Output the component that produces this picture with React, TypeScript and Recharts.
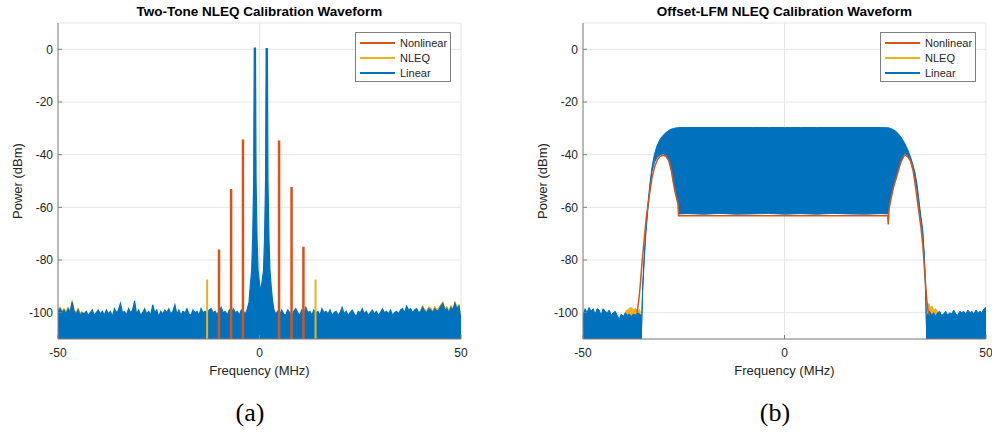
import React from 'react';
import { Area, CartesianGrid, ComposedChart, Line, XAxis, YAxis } from 'recharts';

const colNonlinear = '#D95319';
const colNleq = '#EDB120';
const colLinear = '#0072BD';
const axisGray = '#808080';
const textDark = '#262626';

const freqTicks = [-50, 0, 50];
const powerTicks = [-100, -80, -60, -40, -20, 0];
const floorStep = 0.5;
const bottom = -110;

const legendItems = [
  { name: 'Nonlinear', color: colNonlinear },
  { name: 'NLEQ', color: colNleq },
  { name: 'Linear', color: colLinear },
];

// ---------- (a) two-tone ----------
// noise floor of the linear trace, sampled every 0.5 MHz
const toneFloorLeftStart = -50;
const toneFloorLeft = [
  -99.5, -98.5, -100, -99, -100.5, -98.5, -100, -96, -99.5, -100.5,
  -99, -101, -100, -100.5, -99.5, -101, -100, -99, -101, -100,
  -99, -100.5, -99.5, -101, -99, -100.5, -99.5, -101.5, -98.5, -100,
  -99, -96.5, -100, -99.5, -101, -98.5, -100, -99, -95.5, -100.5,
  -99, -101, -100, -98.5, -100.5, -99.5, -101, -97, -100, -99,
  -101.5, -99.5, -100.5, -99, -100, -98.5, -100.5, -99.5, -97, -100.5,
  -99, -101, -99.5, -100, -98.5, -100.5, -101, -99, -100, -99.5,
  -101, -98.5, -100, -99.5, -100.5, -99, -98.5, -100, -99.5, -101,
  -99, -98, -100, -99.5, -101, -99, -100.5, -98.5, -100, -99.5,
  -101, -99,
];
const toneFloorRightStart = 4.5;
const toneFloorRight = [
  -99.5, -101, -99, -100.5, -101, -99, -100, -101.5, -99.5, -98.5,
  -100, -101, -99, -100.5, -98, -100, -99.5, -101, -99, -100,
  -99.5, -101, -98.5, -100, -99.5, -100.5, -99, -101, -100, -99.5,
  -101, -100, -98, -100.5, -99.5, -101, -100, -99, -100.5, -101.5,
  -99.5, -100, -98.5, -100.5, -99.5, -101, -100, -99, -100.5, -99.5,
  -101, -100, -98.5, -100, -99.5, -100.5, -99, -101, -100, -99.5,
  -100.5, -99, -98.5, -100, -97.5, -99, -98.5, -100, -99, -98.5,
  -100, -99.5, -98, -99.5, -100, -98.5, -99, -100, -98.5, -99.5,
  -99, -97.5, -96.5, -99, -98.5, -100, -98, -99, -96.5, -98.5,
  -97.5, -103,
];
// the two tones and their leakage skirts
const toneCenterFreq = [-4, -3.5, -3, -2.6, -2.3, -1.95, -1.7, -1.45, -1.3, -1.0, -0.85, -0.6, -0.35, 0, 0.3, 0.65, 1.0, 1.25, 1.5, 1.65, 1.95, 2.1, 2.35, 2.6, 2.9, 3.2, 3.6, 4];
const toneCenterLinear = [-99.5, -100.5, -98.5, -96, -90, -84, -72, -50, 0.5, 0.5, -50, -72, -84, -89, -92, -88, -84, -72, -50, 0.3, 0.3, -50, -72, -84, -90, -95, -99, -100.5];
// intermod products
const toneSpurFreq = [-10.05, -7.05, -4.1, 4.85, 7.95, 10.9];
const toneSpurNonlinear = [-76, -53, -34.2, -34.6, -52.3, -75];
const toneSpurNleqFreq = [-13.0, 13.9];
const toneSpurNleq = [-87.4, -87.4];
// NLEQ floor peeking above the linear one near the band edges
const toneNleqEdgeLeftStart = -50;
const toneNleqEdgeLeft = [-98.8, -97.8, -99.2, -98.3, -99.6, -97.9, -99.1, -95.4, -98.7, -99.8, -98.2, -100.2, -99.3];
const toneNleqEdgeRightStart = 40;
const toneNleqEdgeRight = [-98.7, -97.3, -98.8, -99.1, -97.8, -98.2, -99.3, -97.6, -98.8, -98.1, -96.8, -95.8, -98.2, -97.6, -99.2, -97.2, -98.3, -95.7, -97.8, -96.9, -101.5];

// ---------- (b) offset-LFM ----------
const lfmFloorLeftStart = -50;
const lfmFloorLeft = [
  -101.5, -98.5, -100, -98, -99.5, -98.5, -100.5, -98.5, -99, -101,
  -98.5, -99.5, -100, -99, -101, -100, -99.5, -101, -102.5, -100.5,
  -101.5, -100, -101, -100.5, -101.5, -100.5, -101, -100, -100.5,
];
const lfmFloorRightStart = 35.5;
const lfmFloorRight = [
  -100.5, -99.5, -101, -100, -101.5, -100, -99.5, -101, -100.5, -99.5,
  -101, -100, -100.5, -99, -100.5, -101, -99.5, -100, -99.5, -100.5,
  -99, -100, -99.5, -100.5, -99, -100, -99.5, -100, -98.5, -98,
];
const lfmEdgeFreq = [-35.6, 35.35];
const lfmEdgeLinear = [-101, -101];
// chirp band of the linear trace: upper and lower envelope
const lfmBandFreq = [
  -35.55, -35.2, -34.8, -34.4, -33.9, -33.4, -32.9, -32.3, -31.6, -30.8, -30.1, -29.4, -28.7, -28.1, -27.6, -27.1, -26.7, -26.4, -26.25,
  -24, -20, -16, -12, -8, -4, 0, 4, 8, 12, 16, 20, 24,
  25.7, 25.85, 26.0, 26.4, 27.0, 27.6, 28.2, 28.9, 29.8, 30.6, 31.3, 31.9, 32.4, 32.9, 33.4, 33.8, 34.3, 34.7, 35.0, 35.3,
];
const lfmBandUpper = [
  -110, -90, -78, -68.5, -59, -51, -45, -40, -36.5, -34, -32.6, -31.6, -30.8, -30.3, -30.1, -29.9, -29.8, -29.75, -29.7,
  -29.7, -29.7, -29.7, -29.7, -29.7, -29.7, -29.7, -29.7, -29.7, -29.7, -29.7, -29.7, -29.7,
  -29.8, -29.8, -29.9, -30.1, -30.5, -31.1, -32, -33.3, -35.6, -38.2, -41, -44, -47, -51.5, -57.8, -63, -68.5, -78, -90, -110,
];
const lfmBandLower = [
  -110, -92, -80, -70, -61, -53, -46.5, -43, -41, -40, -39.7, -40.2, -42, -45.5, -50, -54, -56.5, -58.5, -62.5,
  -62.4, -62.6, -62.3, -62.6, -62.5, -62.3, -62.6, -62.4, -62.6, -62.3, -62.5, -62.6, -62.4,
  -62.5, -61.5, -59.7, -56.5, -52.2, -49, -45.9, -42.3, -39.6, -40.3, -42, -45.5, -49, -53.5, -60, -64.5, -70, -80, -92, -110,
];
const lfmNonlinearFreq = [
  -36.6, -36.3, -36.0, -35.7, -35.3, -34.8, -34.3, -33.6, -32.9, -32.2, -31.5, -30.8, -30.1, -29.4, -28.7, -28.1, -27.6, -27.1, -26.7, -26.4,
  -26.3, -20, -10, 0, 10, 20, 25.6, 25.75, 25.9, 26.0, 26.4, 27.0, 27.6, 28.2, 28.9, 29.8, 30.6, 31.3, 31.9, 32.5,
  33.2, 33.8, 34.3, 34.8, 35.3, 35.6, 35.9,
];
const lfmNonlinear = [
  -100, -97, -93, -88, -80, -72, -64, -56, -49, -44.5, -41.8, -40.6, -40.2, -40.6, -42.4, -46, -50.5, -54.5, -57, -59,
  -63.2, -63.2, -63.2, -63.2, -63.2, -63.2, -63.2, -66.5, -62, -60.2, -57, -52.7, -49.5, -46.4, -42.7, -40.1, -40.8, -42.5, -46, -52,
  -60, -67, -74, -85, -95, -99, -101,
];
const lfmNleqLeftFreq = [-39.5, -39, -38.5, -38, -37.5, -37, -36.5, -36, -35.7];
const lfmNleqLeft = [-99.5, -99, -98.3, -98, -99, -98.3, -99.3, -98.8, -100];
const lfmNleqRightFreq = [35.4, 35.8, 36.2, 36.6, 37, 37.5, 38];
const lfmNleqRight = [-100, -96.5, -98, -97.5, -99, -98.5, -99.5];

// ---------- row builders ----------
const floorRows = (start: number, vals: number[]) =>
  vals.map((v, i) => ({ f: start + i * floorStep, r: [bottom, v] }));
const pairRows = (freqs: number[], vals: number[]) => freqs.map((f, i) => ({ f, r: [bottom, vals[i]] }));
const bandRows = (freqs: number[], lower: number[], upper: number[]) =>
  freqs.map((f, i) => ({ f, r: [lower[i], upper[i]] }));
const spikeRows = (freqs: number[], peaks: number[]) =>
  freqs.flatMap((f, i) => [
    { f, y: bottom },
    { f, y: peaks[i] },
    { f, y: null },
  ]);
const lineRows = (freqs: number[], vals: number[]) => freqs.map((f, i) => ({ f, y: vals[i] }));

const toneLinearData = [
  ...floorRows(toneFloorLeftStart, toneFloorLeft),
  ...pairRows(toneCenterFreq, toneCenterLinear),
  ...floorRows(toneFloorRightStart, toneFloorRight),
];
const lfmLinearData = [
  ...floorRows(lfmFloorLeftStart, lfmFloorLeft),
  ...pairRows(lfmEdgeFreq.slice(0, 1), lfmEdgeLinear.slice(0, 1)),
  ...bandRows(lfmBandFreq, lfmBandLower, lfmBandUpper),
  ...pairRows(lfmEdgeFreq.slice(1), lfmEdgeLinear.slice(1)),
  ...floorRows(lfmFloorRightStart, lfmFloorRight),
];

const areaProps = {
  type: 'linear' as const,
  dataKey: 'r',
  fillOpacity: 1,
  isAnimationActive: false,
  dot: false,
  activeDot: false,
};
const lineProps = {
  type: 'linear' as const,
  dataKey: 'y',
  dot: false,
  activeDot: false,
  isAnimationActive: false,
};

const chartW = 496;
const chartH = 384;
const tickIn = -4; // matlab style ticks pointing into the box

function Legend({ left }: { left: number }) {
  return (
    <div
      style={{
        position: 'absolute', left, top: 32, width: 94, height: 48,
        border: `1px solid ${axisGray}`, background: '#fff', fontSize: 11, color: textDark,
      }}
    >
      {legendItems.map((it, i) => (
        <div key={it.name} style={{ position: 'absolute', left: 4, top: 3 + i * 15, height: 13, display: 'flex', alignItems: 'center' }}>
          <div style={{ width: 35, height: 2, background: it.color }} />
          <span style={{ marginLeft: 5 }}>{it.name}</span>
        </div>
      ))}
    </div>
  );
}

function Frame({ marginLeft, marginRight, children }: { marginLeft: number; marginRight: number; children: React.ReactNode }) {
  return (
    <ComposedChart width={chartW} height={chartH} margin={{ top: 23, right: marginRight, bottom: 5, left: marginLeft }}>
      <CartesianGrid stroke="#e6e6e6" />
      <XAxis
        dataKey="f"
        type="number"
        domain={[-50, 50]}
        ticks={freqTicks}
        allowDataOverflow
        height={40}
        stroke={axisGray}
        tickSize={tickIn}
        tickMargin={13}
        tick={{ fill: textDark, fontSize: 12 }}
        label={{ value: 'Frequency (MHz)', position: 'insideBottom', offset: 4, fill: textDark, fontSize: 13 }}
      />
      <XAxis
        xAxisId="top"
        orientation="top"
        dataKey="f"
        type="number"
        domain={[-50, 50]}
        ticks={freqTicks}
        allowDataOverflow
        height={0}
        stroke={axisGray}
        tickSize={tickIn}
        tick={false}
      />
      <YAxis
        type="number"
        domain={[-110, 10]}
        ticks={powerTicks}
        allowDataOverflow
        width={50}
        stroke={axisGray}
        tickSize={tickIn}
        tickMargin={9}
        tick={{ fill: textDark, fontSize: 12 }}
        label={{ value: 'Power (dBm)', angle: -90, position: 'insideLeft', offset: 9, fill: textDark, fontSize: 13, style: { textAnchor: 'middle' } }}
      />
      <YAxis
        yAxisId="right"
        orientation="right"
        type="number"
        domain={[-110, 10]}
        ticks={powerTicks}
        allowDataOverflow
        width={0}
        stroke={axisGray}
        tickSize={tickIn}
        tick={false}
      />
      {children}
    </ComposedChart>
  );
}

export default function App() {
  const titleStyle: React.CSSProperties = {
    position: 'absolute', top: 4, width: 403, textAlign: 'center', fontWeight: 'bold', fontSize: 13.5, color: '#000',
  };
  const captionStyle: React.CSSProperties = {
    position: 'absolute', top: 398, width: 80, textAlign: 'center', fontFamily: '"Liberation Serif", "Times New Roman", serif', fontSize: 26, color: '#000',
  };
  return (
    <div
      style={{
        position: 'absolute', left: 0, top: 0, width: 992, height: 432, background: '#fff',
        fontFamily: '"Liberation Sans", Arial, Helvetica, sans-serif',
      }}
    >
      <div style={{ position: 'absolute', left: 0, top: 0 }}>
        <Frame marginLeft={8} marginRight={35}>
          <Area {...areaProps} data={floorRows(toneNleqEdgeLeftStart, toneNleqEdgeLeft)} stroke={colNleq} strokeWidth={1} fill={colNleq} />
          <Area {...areaProps} data={floorRows(toneNleqEdgeRightStart, toneNleqEdgeRight)} stroke={colNleq} strokeWidth={1} fill={colNleq} />
          <Line {...lineProps} data={spikeRows(toneSpurFreq, toneSpurNonlinear)} stroke={colNonlinear} strokeWidth={2.5} />
          <Line {...lineProps} data={spikeRows(toneSpurNleqFreq, toneSpurNleq)} stroke={colNleq} strokeWidth={2} />
          <Area {...areaProps} data={toneLinearData} stroke={colLinear} strokeWidth={1.2} fill={colLinear} />
        </Frame>
      </div>
      <div style={{ position: 'absolute', left: 496, top: 0 }}>
        <Frame marginLeft={37} marginRight={6}>
          <Line {...lineProps} data={lineRows(lfmNonlinearFreq, lfmNonlinear)} stroke={colNonlinear} strokeWidth={1.5} />
          <Area {...areaProps} data={pairRows(lfmNleqLeftFreq, lfmNleqLeft)} stroke={colNleq} strokeWidth={1} fill={colNleq} />
          <Area {...areaProps} data={pairRows(lfmNleqRightFreq, lfmNleqRight)} stroke={colNleq} strokeWidth={1} fill={colNleq} />
          <Area {...areaProps} data={lfmLinearData} stroke={colLinear} strokeWidth={1} fill={colLinear} />
        </Frame>
      </div>

      <div style={{ ...titleStyle, left: 58 }}>Two-Tone NLEQ Calibration Waveform</div>
      <div style={{ ...titleStyle, left: 583 }}>Offset-LFM NLEQ Calibration Waveform</div>
      <Legend left={355} />
      <Legend left={880} />
      <div style={{ ...captionStyle, left: 210 }}>(a)</div>
      <div style={{ ...captionStyle, left: 735 }}>(b)</div>
    </div>
  );
}
